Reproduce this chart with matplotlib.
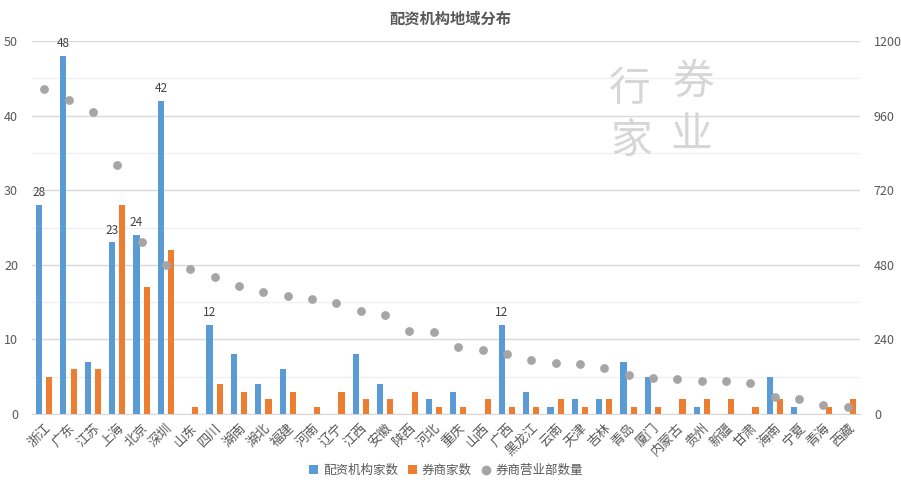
import numpy as np
import matplotlib
matplotlib.use('Agg')
import matplotlib.pyplot as plt
from matplotlib.lines import Line2D
from matplotlib.patches import Patch

plt.rcParams['font.family'] = ['Noto Sans CJK SC', 'DejaVu Sans']

regions = ['浙江', '广东', '江苏', '上海', '北京', '深圳', '山东', '四川', '湖南', '湖北',
           '福建', '河南', '辽宁', '江西', '安徽', '陕西', '河北', '重庆', '山西', '广西',
           '黑龙江', '云南', '天津', '吉林', '青岛', '厦门', '内蒙古', '贵州', '新疆', '甘肃',
           '海南', '宁夏', '青海', '西藏']
peizi = [28, 48, 7, 23, 24, 42, 0, 12, 8, 4,
         6, 0, 0, 8, 4, 0, 2, 3, 0, 12,
         3, 1, 2, 2, 7, 5, 0, 1, 0, 0,
         5, 1, 0, 0]
brokers = [5, 6, 6, 28, 17, 22, 1, 4, 3, 2,
           3, 1, 3, 2, 2, 3, 1, 1, 2, 1,
           1, 2, 1, 2, 1, 1, 2, 2, 2, 1,
           2, 0, 1, 2]
branches = [1045, 1010, 971, 802, 555, 478, 467, 440, 412, 394,
            379, 371, 358, 333, 319, 268, 265, 215, 207, 193,
            175, 165, 160, 147, 125, 115, 113, 107, 107, 101,
            56, 48, 29, 22]
labeled = [0, 1, 3, 4, 5, 7, 19]  # bars that carry a value label

blue = '#5B9BD5'
orange = '#ED7D31'
gray = '#A5A5A5'
txt = '#595959'

fig = plt.figure(figsize=(9.01, 4.86), dpi=100)
ax = fig.add_axes([0.0355, 0.148, 0.919, 0.7675])
ax2 = ax.twinx()

x = np.arange(len(regions))
w = 0.25
off = 0.21
ax.bar(x - off, peizi, w, color=blue, zorder=3)
ax.bar(x + off, brokers, w, color=orange, zorder=3)
for i in labeled:
    ax.text(x[i] - off, peizi[i] + 0.8, str(peizi[i]), ha='center', va='bottom',
            fontsize=8.5, color='#404040', zorder=5)

ax2.scatter(x, branches, s=40, color=gray, zorder=4, linewidths=0)

ax.set_xlim(-0.5, len(regions) - 0.5)
ax.set_ylim(0, 50)
ax2.set_ylim(0, 1200)
ax.set_yticks(np.arange(0, 51, 10))
ax2.set_yticks(np.arange(0, 1201, 240))
ax.set_yticks(np.arange(5, 50, 10), minor=True)
ax.grid(axis='y', which='major', color='#D9D9D9', linewidth=1, zorder=0)
ax.grid(axis='y', which='minor', color='#F0F0F0', linewidth=1, zorder=0)
ax.set_axisbelow(True)

for a in (ax, ax2):
    for s in a.spines.values():
        s.set_visible(False)
    a.tick_params(axis='y', length=0, labelsize=9, labelcolor=txt, which='both')
ax.spines['bottom'].set_visible(True)
ax.spines['bottom'].set_color('#D9D9D9')
ax.tick_params(axis='y', pad=10)
ax2.tick_params(axis='y', pad=10)

ax.set_xticks(x)
ax.set_xticklabels(regions, rotation=45, ha='right', va='top', rotation_mode='anchor',
                   fontsize=9.5, color=txt)
ax.tick_params(axis='x', length=0, pad=5)

fig.text(0.5, 0.962, '配资机构地域分布', ha='center', va='center', fontsize=11,
         fontweight='bold', color=txt)

# watermark
wm = dict(fontsize=30, color='#D6D6D6', ha='center', va='center', zorder=1)
fig.text(0.769, 0.831, '券', **wm)
fig.text(0.767, 0.722, '业', **wm)
fig.text(0.699, 0.815, '行', **wm)
fig.text(0.701, 0.708, '家', **wm)

handles = [Patch(facecolor=blue, label='配资机构家数'),
           Patch(facecolor=orange, label='券商家数'),
           Line2D([], [], marker='o', linestyle='none', color=gray, markersize=6,
                  label='券商营业部数量')]
leg = fig.legend(handles=handles, loc='center', bbox_to_anchor=(0.495, 0.032), ncol=3,
                 frameon=False, fontsize=9, handlelength=0.7, handleheight=0.7,
                 handletextpad=0.4, columnspacing=0.8)
for t in leg.get_texts():
    t.set_color(txt)

fig.savefig('out.png', dpi=100)
